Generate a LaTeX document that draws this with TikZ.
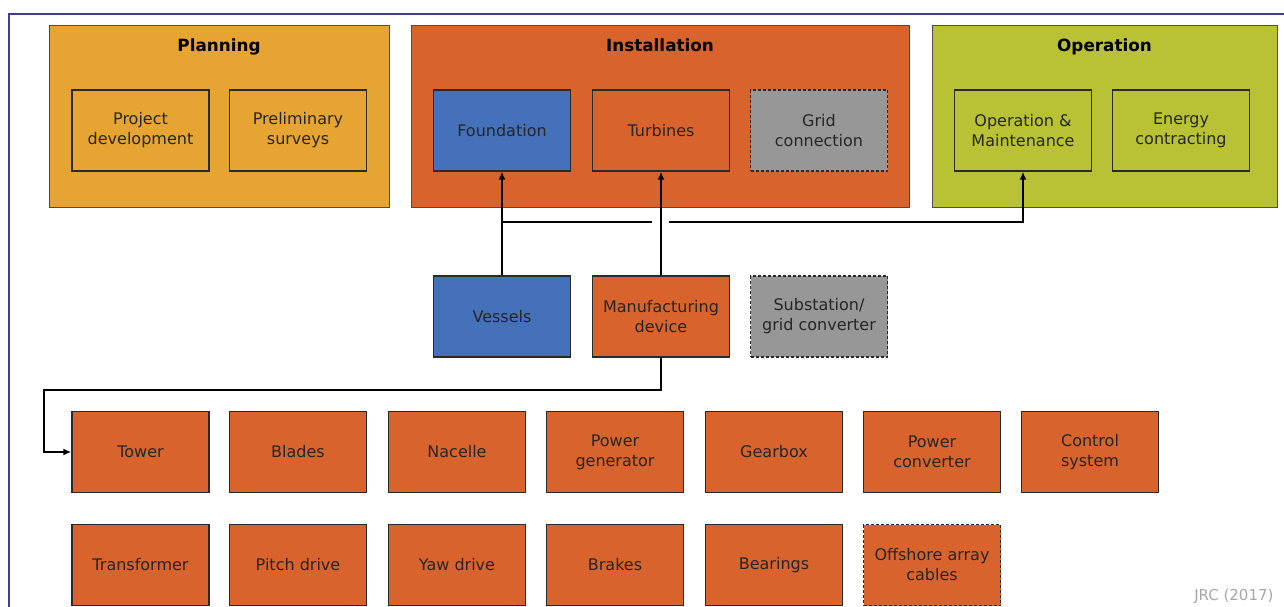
\documentclass[tikz,border=0pt]{standalone}
\usepackage{fontspec}
\setmainfont{DejaVu Sans}
\usetikzlibrary{arrows.meta}
\definecolor{planC}{HTML}{E6A532}
\definecolor{instC}{HTML}{D9632C}
\definecolor{operC}{HTML}{B9C235}
\definecolor{blueC}{HTML}{4471B9}
\definecolor{greyC}{HTML}{979797}
\definecolor{frameC}{HTML}{3B3F8C}
\definecolor{edgeC}{HTML}{2A2A2A}
\begin{document}
\begin{tikzpicture}[x=1pt,y=-1pt,
  group/.style={draw=gray!60!black, line width=1pt, minimum width=340pt, minimum height=182pt, inner sep=0pt},
  gtitle/.style={font=\fontsize{16.8}{20}\selectfont\bfseries, text=black, anchor=base},
  box/.style={draw=edgeC, line width=1.3pt, minimum width=137pt, minimum height=81pt, inner sep=0pt,
    align=center, font=\fontsize{16}{20}\selectfont, text=black!85},
  dbox/.style={box, densely dashed},
  arr/.style={line width=1.8pt, -{Latex[length=8pt,width=7pt]}},
  ln/.style={line width=1.8pt}]
\useasboundingbox (0,0) rectangle (1284,606);
\fill[white] (0,0) rectangle (1284,606);
% outer frame
\draw[frameC, line width=1.3pt] (9,610) -- (9,14) -- (1290,14);

% phase groups
\node[group, fill=planC, minimum width=340pt] (plan) at (219,116) {};
\node[group, fill=instC, minimum width=498pt] (inst) at (660,116) {};
\node[group, fill=operC, minimum width=345pt] (oper) at (1104.5,116) {};
\node[gtitle] (planT) at (219,51) {Planning};
\node[gtitle] (instT) at (660,51) {Installation};
\node[gtitle] (operT) at (1104.5,51) {Operation};

% phase activities
\node[box] (pd) at (140.5,130.5) {Project\\development};
\node[box] (ps) at (298,130.5) {Preliminary\\surveys};
\node[box, fill=blueC] (fdn) at (502,130.5) {Foundation};
\node[box] (tur) at (661,130.5) {Turbines};
\node[dbox, fill=greyC] (grid) at (819,130.5) {Grid\\connection};
\node[box] (om) at (1023,130.5) {Operation \&\\Maintenance};
\node[box] (ec) at (1181,130.5) {Energy\\contracting};

% supply chain
\node[box, fill=blueC] (ves) at (502,316.5) {Vessels};
\node[box, fill=instC] (mfg) at (661,316.5) {Manufacturing\\device};
\node[dbox, fill=greyC] (sub) at (819,316.5) {Substation/\\grid converter};

% components, first row
\node[box, fill=instC] (tow) at (140.5,452) {Tower};
\node[box, fill=instC] (bla) at (298,452) {Blades};
\node[box, fill=instC] (nac) at (457,452) {Nacelle};
\node[box, fill=instC] (gen) at (615,452) {Power\\generator};
\node[box, fill=instC] (gea) at (774,452) {Gearbox};
\node[box, fill=instC] (con) at (932,452) {Power\\converter};
\node[box, fill=instC] (ctl) at (1090,452) {Control\\system};
% components, second row
\node[box, fill=instC] (tra) at (140.5,565) {Transformer};
\node[box, fill=instC] (pit) at (298,565) {Pitch drive};
\node[box, fill=instC] (yaw) at (457,565) {Yaw drive};
\node[box, fill=instC] (bra) at (615,565) {Brakes};
\node[box, fill=instC] (bea) at (774,565) {Bearings};
\node[dbox, fill=instC] (cab) at (932,565) {Offshore array\\cables};

\node[text=gray!70, font=\fontsize{15}{18}\selectfont, anchor=base east] (src) at (1277,600) {JRC (2017)};

% connectors
\draw[arr] (ves.north) -- (fdn.south);
\draw[arr] (mfg.north) -- (tur.south);
\coordinate (jL) at (fdn.south |- 0,222);
\coordinate (gapL) at (652,222);
\coordinate (gapR) at (669,222);
\draw[ln] (jL) -- (gapL);
\draw[arr] (gapR) -| (om.south);
\coordinate (m1) at (mfg.south |- 0,390);
\coordinate (m2) at (44,452);
\draw[arr] (mfg.south) -- (m1) -| (m2) -- (tow.west);
\end{tikzpicture}
\end{document}
